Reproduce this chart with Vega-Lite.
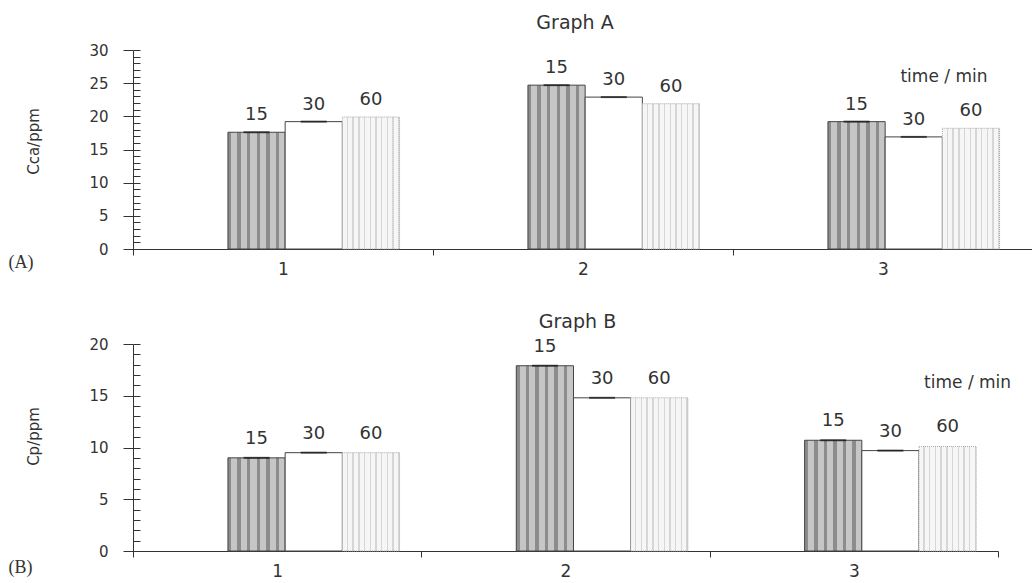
{
  "$schema": "https://vega.github.io/schema/vega-lite/v6.json",
  "padding": {"left": 8, "top": 14, "right": 0, "bottom": 0},
  "spacing": 36,
  "config": {
    "font": "DejaVu Sans",
    "view": {"stroke": null},
    "axis": {"domainColor": "#333", "tickColor": "#333", "labelColor": "#333", "titleColor": "#333", "labelFont": "DejaVu Sans", "titleFont": "DejaVu Sans", "titleFontWeight": "normal", "grid": false},
    "title": {"font": "DejaVu Sans", "fontWeight": "normal", "color": "#333", "fontSize": 19}
  },
  "datasets": {
    "a": [
      {"group": 1, "time": 15, "value": 17.6}, {"group": 1, "time": 30, "value": 19.2}, {"group": 1, "time": 60, "value": 19.9},
      {"group": 2, "time": 15, "value": 24.7}, {"group": 2, "time": 30, "value": 22.9}, {"group": 2, "time": 60, "value": 21.9},
      {"group": 3, "time": 15, "value": 19.2}, {"group": 3, "time": 30, "value": 16.9}, {"group": 3, "time": 60, "value": 18.2}
    ],
    "b": [
      {"group": 1, "time": 15, "value": 9.0}, {"group": 1, "time": 30, "value": 9.5}, {"group": 1, "time": 60, "value": 9.5},
      {"group": 2, "time": 15, "value": 17.9}, {"group": 2, "time": 30, "value": 14.8}, {"group": 2, "time": 60, "value": 14.8},
      {"group": 3, "time": 15, "value": 10.7}, {"group": 3, "time": 30, "value": 9.7}, {"group": 3, "time": 60, "value": 10.1}
    ]
  },
  "vconcat": [
    {
      "title": {"text": "Graph A", "frame": "group", "anchor": "middle", "dx": -8, "offset": 10},
      "width": 900,
      "height": 199,
      "data": {"name": "a"},
      "resolve": {"axis": {"y": "independent"}},
      "encoding": {
        "x": {"field": "group", "type": "nominal", "scale": {"paddingInner": 0, "paddingOuter": 0},
          "axis": {"tickBand": "extent", "labelAngle": 0, "tickSize": 6, "labelFontSize": 17, "labelPadding": 6,
            "title": "(A)", "titleX": -125, "titleY": 13, "titleAlign": "left", "titleBaseline": "middle", "titleFont": "Liberation Serif", "titleFontSize": 18}},
        "xOffset": {"field": "time", "type": "nominal", "scale": {"domain": [15, 30, 60], "range": [0, 286], "paddingInner": 0, "paddingOuter": 1, "align": 0.83}},
        "y": {"field": "value", "type": "quantitative", "scale": {"domain": [0, 30], "nice": false}, "axis": null}
      },
      "layer": [
        {"transform": [{"filter": "datum.time == 15"}],
         "mark": {"type": "bar", "stroke": "#444", "strokeWidth": 1,
           "fill": {"gradient": "linear", "x1": 0, "y1": 0, "x2": 1, "y2": 0, "stops": [
             {"offset": 0, "color": "#8c8c8c"}, {"offset": 0.06, "color": "#8c8c8c"}, {"offset": 0.06, "color": "#c6c6c6"}, {"offset": 0.1667, "color": "#c6c6c6"},
             {"offset": 0.1667, "color": "#8c8c8c"}, {"offset": 0.2267, "color": "#8c8c8c"}, {"offset": 0.2267, "color": "#c6c6c6"}, {"offset": 0.3333, "color": "#c6c6c6"},
             {"offset": 0.3333, "color": "#8c8c8c"}, {"offset": 0.3933, "color": "#8c8c8c"}, {"offset": 0.3933, "color": "#c6c6c6"}, {"offset": 0.5, "color": "#c6c6c6"},
             {"offset": 0.5, "color": "#8c8c8c"}, {"offset": 0.56, "color": "#8c8c8c"}, {"offset": 0.56, "color": "#c6c6c6"}, {"offset": 0.6667, "color": "#c6c6c6"},
             {"offset": 0.6667, "color": "#8c8c8c"}, {"offset": 0.7267, "color": "#8c8c8c"}, {"offset": 0.7267, "color": "#c6c6c6"}, {"offset": 0.8333, "color": "#c6c6c6"},
             {"offset": 0.8333, "color": "#8c8c8c"}, {"offset": 0.8933, "color": "#8c8c8c"}, {"offset": 0.8933, "color": "#c6c6c6"}, {"offset": 1, "color": "#c6c6c6"}
           ]}},
         "encoding": {"y": {"field": "value", "type": "quantitative",
           "axis": {"orient": "left", "values": [0, 5, 10, 15, 20, 25, 30], "tickSize": 10,
             "labelFontSize": 15, "labelPadding": 15,
             "title": "Cca/ppm", "titleFontSize": 15, "titleX": -100, "titleY": 91, "titleBaseline": "middle", "titleAngle": -90}}}},
        {"transform": [{"filter": "datum.time == 30"}],
         "mark": {"type": "bar", "fill": "white", "stroke": "#444", "strokeWidth": 1}},
        {"transform": [{"filter": "datum.time == 60"}],
         "mark": {"type": "bar", "stroke": "#a8a8a8", "strokeWidth": 1, "strokeDash": [1, 1],
           "fill": {"gradient": "linear", "x1": 0, "y1": 0, "x2": 1, "y2": 0, "stops": [
             {"offset": 0, "color": "#f6f6f6"}, {"offset": 0.075, "color": "#f6f6f6"}, {"offset": 0.075, "color": "#d6d6d6"}, {"offset": 0.1, "color": "#d6d6d6"},
             {"offset": 0.1, "color": "#f6f6f6"}, {"offset": 0.175, "color": "#f6f6f6"}, {"offset": 0.175, "color": "#d6d6d6"}, {"offset": 0.2, "color": "#d6d6d6"},
             {"offset": 0.2, "color": "#f6f6f6"}, {"offset": 0.275, "color": "#f6f6f6"}, {"offset": 0.275, "color": "#d6d6d6"}, {"offset": 0.3, "color": "#d6d6d6"},
             {"offset": 0.3, "color": "#f6f6f6"}, {"offset": 0.375, "color": "#f6f6f6"}, {"offset": 0.375, "color": "#d6d6d6"}, {"offset": 0.4, "color": "#d6d6d6"},
             {"offset": 0.4, "color": "#f6f6f6"}, {"offset": 0.475, "color": "#f6f6f6"}, {"offset": 0.475, "color": "#d6d6d6"}, {"offset": 0.5, "color": "#d6d6d6"},
             {"offset": 0.5, "color": "#f6f6f6"}, {"offset": 0.575, "color": "#f6f6f6"}, {"offset": 0.575, "color": "#d6d6d6"}, {"offset": 0.6, "color": "#d6d6d6"},
             {"offset": 0.6, "color": "#f6f6f6"}, {"offset": 0.675, "color": "#f6f6f6"}, {"offset": 0.675, "color": "#d6d6d6"}, {"offset": 0.7, "color": "#d6d6d6"},
             {"offset": 0.7, "color": "#f6f6f6"}, {"offset": 0.775, "color": "#f6f6f6"}, {"offset": 0.775, "color": "#d6d6d6"}, {"offset": 0.8, "color": "#d6d6d6"},
             {"offset": 0.8, "color": "#f6f6f6"}, {"offset": 0.875, "color": "#f6f6f6"}, {"offset": 0.875, "color": "#d6d6d6"}, {"offset": 0.9, "color": "#d6d6d6"},
             {"offset": 0.9, "color": "#f6f6f6"}, {"offset": 0.975, "color": "#f6f6f6"}, {"offset": 0.975, "color": "#d6d6d6"}, {"offset": 1, "color": "#d6d6d6"}
           ]}}},
        {"transform": [{"filter": "datum.time != 60"}],
         "mark": {"type": "tick", "color": "#111", "size": 26, "thickness": 2},
         "encoding": {"y": {"field": "value", "type": "quantitative",
           "axis": {"orient": "left", "values": [0,1,2,3,4,5,6,7,8,9,10,11,12,13,14,15,16,17,18,19,20,21,22,23,24,25,26,27,28,29,30],
             "tickSize": -7, "labels": false, "domain": false, "title": null}}}},
        {"mark": {"type": "text", "baseline": "bottom", "dy": -8, "fontSize": 18, "color": "#333"},
         "encoding": {"text": {"field": "time", "type": "nominal"}}},
        {"data": {"values": [{"group": 3, "time": 60, "value": 25.9, "label": "time / min"}]},
         "mark": {"type": "text", "baseline": "middle", "align": "center", "dx": -27, "fontSize": 17, "color": "#333"},
         "encoding": {"text": {"field": "label", "type": "nominal"}}}
      ]
    },
    {
      "title": {"text": "Graph B", "frame": "group", "anchor": "middle", "dx": 12, "offset": 5},
      "width": 865,
      "height": 207,
      "data": {"name": "b"},
      "resolve": {"axis": {"y": "independent"}},
      "encoding": {
        "x": {"field": "group", "type": "nominal", "scale": {"paddingInner": 0, "paddingOuter": 0},
          "axis": {"tickBand": "extent", "labelAngle": 0, "tickSize": 6, "labelFontSize": 17, "labelPadding": 6,
            "title": "(B)", "titleX": -125, "titleY": 16, "titleAlign": "left", "titleBaseline": "middle", "titleFont": "Liberation Serif", "titleFontSize": 18}},
        "xOffset": {"field": "time", "type": "nominal", "scale": {"domain": [15, 30, 60], "range": [0, 276], "paddingInner": 0, "paddingOuter": 1, "align": 0.81}},
        "y": {"field": "value", "type": "quantitative", "scale": {"domain": [0, 20], "nice": false}, "axis": null}
      },
      "layer": [
        {"transform": [{"filter": "datum.time == 15"}],
         "mark": {"type": "bar", "stroke": "#444", "strokeWidth": 1,
           "fill": {"gradient": "linear", "x1": 0, "y1": 0, "x2": 1, "y2": 0, "stops": [
             {"offset": 0, "color": "#8c8c8c"}, {"offset": 0.06, "color": "#8c8c8c"}, {"offset": 0.06, "color": "#c6c6c6"}, {"offset": 0.1667, "color": "#c6c6c6"},
             {"offset": 0.1667, "color": "#8c8c8c"}, {"offset": 0.2267, "color": "#8c8c8c"}, {"offset": 0.2267, "color": "#c6c6c6"}, {"offset": 0.3333, "color": "#c6c6c6"},
             {"offset": 0.3333, "color": "#8c8c8c"}, {"offset": 0.3933, "color": "#8c8c8c"}, {"offset": 0.3933, "color": "#c6c6c6"}, {"offset": 0.5, "color": "#c6c6c6"},
             {"offset": 0.5, "color": "#8c8c8c"}, {"offset": 0.56, "color": "#8c8c8c"}, {"offset": 0.56, "color": "#c6c6c6"}, {"offset": 0.6667, "color": "#c6c6c6"},
             {"offset": 0.6667, "color": "#8c8c8c"}, {"offset": 0.7267, "color": "#8c8c8c"}, {"offset": 0.7267, "color": "#c6c6c6"}, {"offset": 0.8333, "color": "#c6c6c6"},
             {"offset": 0.8333, "color": "#8c8c8c"}, {"offset": 0.8933, "color": "#8c8c8c"}, {"offset": 0.8933, "color": "#c6c6c6"}, {"offset": 1, "color": "#c6c6c6"}
           ]}},
         "encoding": {"y": {"field": "value", "type": "quantitative",
           "axis": {"orient": "left", "values": [0, 5, 10, 15, 20], "tickSize": 10,
             "labelFontSize": 15, "labelPadding": 15,
             "title": "Cp/ppm", "titleFontSize": 15, "titleX": -100, "titleY": 92, "titleBaseline": "middle", "titleAngle": -90}}}},
        {"transform": [{"filter": "datum.time == 30"}],
         "mark": {"type": "bar", "fill": "white", "stroke": "#444", "strokeWidth": 1}},
        {"transform": [{"filter": "datum.time == 60"}],
         "mark": {"type": "bar", "stroke": "#a8a8a8", "strokeWidth": 1, "strokeDash": [1, 1],
           "fill": {"gradient": "linear", "x1": 0, "y1": 0, "x2": 1, "y2": 0, "stops": [
             {"offset": 0, "color": "#f6f6f6"}, {"offset": 0.075, "color": "#f6f6f6"}, {"offset": 0.075, "color": "#d6d6d6"}, {"offset": 0.1, "color": "#d6d6d6"},
             {"offset": 0.1, "color": "#f6f6f6"}, {"offset": 0.175, "color": "#f6f6f6"}, {"offset": 0.175, "color": "#d6d6d6"}, {"offset": 0.2, "color": "#d6d6d6"},
             {"offset": 0.2, "color": "#f6f6f6"}, {"offset": 0.275, "color": "#f6f6f6"}, {"offset": 0.275, "color": "#d6d6d6"}, {"offset": 0.3, "color": "#d6d6d6"},
             {"offset": 0.3, "color": "#f6f6f6"}, {"offset": 0.375, "color": "#f6f6f6"}, {"offset": 0.375, "color": "#d6d6d6"}, {"offset": 0.4, "color": "#d6d6d6"},
             {"offset": 0.4, "color": "#f6f6f6"}, {"offset": 0.475, "color": "#f6f6f6"}, {"offset": 0.475, "color": "#d6d6d6"}, {"offset": 0.5, "color": "#d6d6d6"},
             {"offset": 0.5, "color": "#f6f6f6"}, {"offset": 0.575, "color": "#f6f6f6"}, {"offset": 0.575, "color": "#d6d6d6"}, {"offset": 0.6, "color": "#d6d6d6"},
             {"offset": 0.6, "color": "#f6f6f6"}, {"offset": 0.675, "color": "#f6f6f6"}, {"offset": 0.675, "color": "#d6d6d6"}, {"offset": 0.7, "color": "#d6d6d6"},
             {"offset": 0.7, "color": "#f6f6f6"}, {"offset": 0.775, "color": "#f6f6f6"}, {"offset": 0.775, "color": "#d6d6d6"}, {"offset": 0.8, "color": "#d6d6d6"},
             {"offset": 0.8, "color": "#f6f6f6"}, {"offset": 0.875, "color": "#f6f6f6"}, {"offset": 0.875, "color": "#d6d6d6"}, {"offset": 0.9, "color": "#d6d6d6"},
             {"offset": 0.9, "color": "#f6f6f6"}, {"offset": 0.975, "color": "#f6f6f6"}, {"offset": 0.975, "color": "#d6d6d6"}, {"offset": 1, "color": "#d6d6d6"}
           ]}}},
        {"transform": [{"filter": "datum.time != 60"}],
         "mark": {"type": "tick", "color": "#111", "size": 26, "thickness": 2},
         "encoding": {"y": {"field": "value", "type": "quantitative",
           "axis": {"orient": "left", "values": [0,1,2,3,4,5,6,7,8,9,10,11,12,13,14,15,16,17,18,19,20],
             "tickSize": -7, "labels": false, "domain": false, "title": null}}}},
        {"mark": {"type": "text", "baseline": "bottom", "dy": -10, "fontSize": 18, "color": "#333"},
         "encoding": {"text": {"field": "time", "type": "nominal"}}},
        {"data": {"values": [{"group": 3, "time": 60, "value": 16.2, "label": "time / min"}]},
         "mark": {"type": "text", "baseline": "middle", "align": "center", "dx": 20, "fontSize": 17, "color": "#333"},
         "encoding": {"text": {"field": "label", "type": "nominal"}}}
      ]
    }
  ]
}
